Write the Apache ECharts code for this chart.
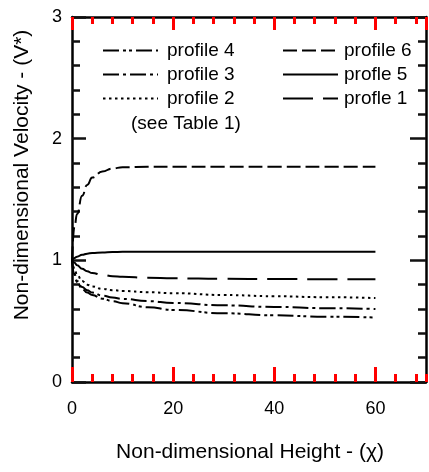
<!DOCTYPE html>
<html>
<head>
<meta charset="utf-8">
<script src="https://cdn.jsdelivr.net/npm/echarts@6/dist/echarts.min.js"></script>
<style>
  html, body { margin: 0; padding: 0; background: #fff; }
  #chart { width: 429px; height: 472px; }
</style>
</head>
<body>
<div id="chart"></div>
<script>
// non-dimensional height (chi)
var heights = [0, 0.5, 1, 2, 3, 4, 6, 8, 10, 15, 20, 30, 40, 50, 60];
// non-dimensional velocity for each profile
var profile6 = [1.0, 1.28, 1.38, 1.53, 1.62, 1.68, 1.73, 1.755, 1.765, 1.77, 1.77, 1.77, 1.77, 1.77, 1.77];
var profile5 = [1.0, 1.02, 1.03, 1.045, 1.055, 1.06, 1.065, 1.068, 1.07, 1.07, 1.07, 1.07, 1.07, 1.07, 1.07];
var profile1 = [1.0, 0.98, 0.96, 0.93, 0.91, 0.895, 0.88, 0.87, 0.865, 0.857, 0.852, 0.848, 0.846, 0.845, 0.845];
var profile2 = [1.0, 0.93, 0.88, 0.83, 0.80, 0.785, 0.765, 0.755, 0.748, 0.738, 0.73, 0.715, 0.705, 0.697, 0.69];
var profile3 = [1.0, 0.89, 0.83, 0.78, 0.755, 0.735, 0.71, 0.695, 0.683, 0.665, 0.65, 0.63, 0.617, 0.607, 0.60];
var profile4 = [1.0, 0.88, 0.82, 0.765, 0.735, 0.715, 0.685, 0.665, 0.648, 0.615, 0.592, 0.565, 0.548, 0.537, 0.53];

var font = "'Liberation Sans', Arial, Helvetica, sans-serif";

function pairs(ys) {
  return heights.map(function (x, i) { return [x, ys[i]]; });
}

function line(name, ys, dash) {
  return {
    name: name,
    type: "line",
    data: pairs(ys),
    symbol: "none",
    smooth: true,
    smoothMonotone: "x",
    lineStyle: { color: "#000", width: 2, type: dash },
    itemStyle: { color: "#000" }
  };
}

// grid 0 carries the major ticks, grid 1 (same rect) only the minor ones
function xAx(grid, pos, interval, len, labels) {
  return {
    type: "value",
    gridIndex: grid,
    position: pos,
    min: 0,
    max: 70,
    interval: interval,
    axisLine: { show: grid === 0, onZero: false, lineStyle: { color: "#000", width: 2.5 } },
    axisTick: { show: true, inside: true, length: len, lineStyle: { color: "red", width: 3 } },
    axisLabel: labels ? { show: true, color: "#000", fontSize: 18, fontFamily: font, margin: 18, showMaxLabel: false } : { show: false },
    splitLine: { show: false }
  };
}

function yAx(grid, pos, interval, len, labels) {
  return {
    type: "value",
    gridIndex: grid,
    position: pos,
    min: 0,
    max: 3,
    interval: interval,
    axisLine: { show: grid === 0, onZero: false, lineStyle: { color: "#000", width: 2.5 } },
    axisTick: { show: true, inside: true, length: len, lineStyle: { color: "#111", width: 2.5 } },
    axisLabel: labels ? { show: true, color: "#000", fontSize: 18, fontFamily: font, margin: 10 } : { show: false },
    splitLine: { show: false }
  };
}

var legendBase = {
  orient: "vertical",
  top: 41,
  padding: 0,
  itemWidth: 55,
  itemHeight: 14,
  itemGap: 5,
  selectedMode: false,
  itemStyle: { opacity: 0 }
};

var chart = echarts.init(document.getElementById("chart"));
chart.setOption({
  animation: false,
  grid: [
    { left: 72, right: 3, top: 17, bottom: 90 },
    { left: 72, right: 3, top: 17, bottom: 90 }
  ],
  xAxis: [
    xAx(0, "bottom", 20, 15, true),
    xAx(0, "top", 20, 13, false),
    xAx(1, "bottom", 4, 8, false),
    xAx(1, "top", 4, 7, false)
  ],
  yAxis: [
    yAx(0, "left", 1, 14, true),
    yAx(0, "right", 1, 16, false),
    yAx(1, "left", 0.2, 8, false),
    yAx(1, "right", 0.2, 8, false)
  ],
  legend: [
    Object.assign({}, legendBase, {
      data: ["profile 4", "profile 3", "profile 2"],
      left: 102,
      textStyle: { color: "#000", fontSize: 19, fontFamily: font, padding: [0, 0, 0, 4] }
    }),
    Object.assign({}, legendBase, {
      data: ["profile 6", "profle 5", "profle 1"],
      left: 282,
      textStyle: { color: "#000", fontSize: 19, fontFamily: font, padding: [0, 0, 0, 1] }
    })
  ],
  graphic: [
    {
      type: "text",
      left: 131,
      top: 114,
      style: { text: "(see Table 1)", fill: "#000", font: "19px " + font }
    },
    {
      type: "text",
      x: 250,
      y: 452,
      style: {
        text: "Non-dimensional Height - (\u03c7)",
        fill: "#000",
        font: "21px " + font,
        align: "center",
        verticalAlign: "middle"
      }
    },
    {
      type: "text",
      x: 22,
      y: 175,
      rotation: Math.PI / 2,
      style: {
        text: "Non-dimensional Velocity - (V*)",
        fill: "#000",
        font: "21px " + font,
        align: "center",
        verticalAlign: "middle"
      }
    }
  ],
  series: [
    line("profile 4", profile4, [16, 4, 3, 3, 3, 4]),
    line("profile 3", profile3, [16, 4, 3, 4]),
    line("profile 2", profile2, [2.5, 3.5]),
    line("profile 6", profile6, [14, 5]),
    line("profle 5", profile5, "solid"),
    line("profle 1", profile1, [30, 10])
  ]
});
</script>
</body>
</html>
